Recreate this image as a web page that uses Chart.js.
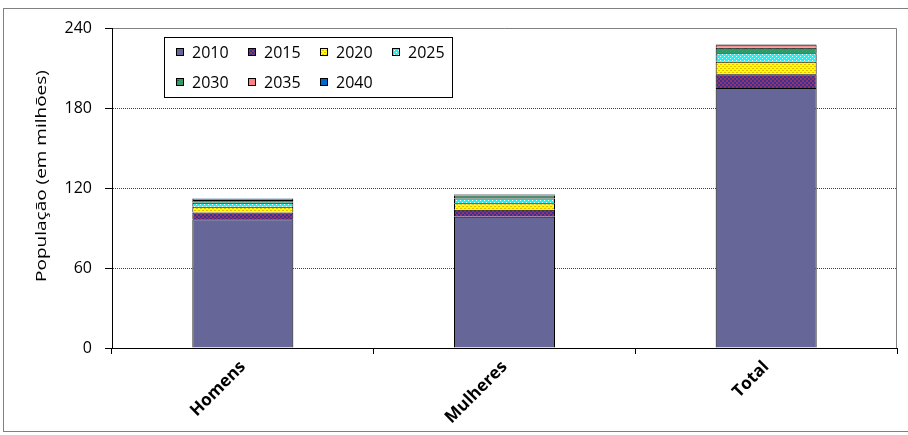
<!DOCTYPE html>
<html>
<head>
<meta charset="utf-8">
<script src="https://cdn.jsdelivr.net/npm/chart.js@4"></script>
<style>
  body { margin: 0; background: #fff; }
  canvas { display: block; }
</style>
</head>
<body>
<canvas id="popChart" width="908" height="435"></canvas>
<script>
// Categories and projection years
const categories = ['Homens', 'Mulheres', 'Total'];
const years = ['2010', '2015', '2020', '2025', '2030', '2035', '2040'];

// Population (millions) added in each period, per category
const pop2010 = [96.5, 98.5, 195.0];
const pop2015 = [5.2, 5.1, 10.4];
const pop2020 = [4.2, 5.0, 9.2];
const pop2025 = [3.0, 3.6, 6.4];
const pop2030 = [2.1, 2.2, 4.2];
const pop2035 = [0.8, 0.7, 1.8];
const pop2040 = [0.3, 0.3, 0.6];

const yTicks = [0, 60, 120, 180, 240];
const yTitle = 'População (em milhões)';

const FONT = "'Open Sans', sans-serif";

// Small repeating fills
function makePattern(size, draw) {
    const c = document.createElement('canvas');
    c.width = size;
    c.height = size;
    draw(c.getContext('2d'));
    return c.getContext('2d').createPattern(c, 'repeat');
}

const checkerPurple = makePattern(4, g => {
    g.fillStyle = '#993366';
    g.fillRect(0, 0, 4, 4);
    g.fillStyle = '#333399';
    g.fillRect(0, 0, 2, 2);
    g.fillRect(2, 2, 2, 2);
});

const dottedYellow = makePattern(4, g => {
    g.fillStyle = '#ffff00';
    g.fillRect(0, 0, 4, 4);
    g.fillStyle = '#e6b800';
    g.fillRect(0, 0, 2, 1);
    g.fillRect(2, 2, 2, 1);
});

const dottedCyan = makePattern(4, g => {
    g.fillStyle = '#00ffff';
    g.fillRect(0, 0, 4, 4);
    g.fillStyle = '#ffffff';
    g.fillRect(0, 0, 1, 1);
    g.fillRect(2, 2, 1, 1);
});

const dashedGreen = makePattern(8, g => {
    g.fillStyle = '#339966';
    g.fillRect(0, 0, 8, 8);
    g.fillStyle = '#1d5e3c';
    g.fillRect(0, 0, 3, 1);
});

const seriesData = [pop2010, pop2015, pop2020, pop2025, pop2030, pop2035, pop2040];
const seriesFill = ['#666699', checkerPurple, dottedYellow, dottedCyan, dashedGreen, '#ff8080', '#0066cc'];

const datasets = years.map((yr, i) => ({
    label: yr,
    data: seriesData[i],
    backgroundColor: seriesFill[i],
    borderColor: '#000',
    borderWidth: 1,
    barPercentage: 1,
    categoryPercentage: 0.386
}));

// Outer frame, plot frame, axis title and the boxed legend
const framePlugin = {
    id: 'frame',
    beforeDraw(chart) {
        const ctx = chart.ctx;
        const a = chart.chartArea;
        ctx.save();
        ctx.fillStyle = '#fff';
        ctx.fillRect(0, 0, chart.width, chart.height);
        ctx.strokeStyle = '#808080';
        ctx.lineWidth = 1;
        ctx.strokeRect(3.5, 8.5, 910, 423);
        ctx.beginPath();
        ctx.moveTo(a.left, a.top + 0.5);
        ctx.lineTo(a.right - 0.5, a.top + 0.5);
        ctx.lineTo(a.right - 0.5, a.bottom);
        ctx.stroke();
        ctx.restore();
    },
    afterDraw(chart) {
        const ctx = chart.ctx;
        ctx.save();

        // y axis title: tall font, squeezed across the line
        ctx.translate(42, 176);
        ctx.rotate(-Math.PI / 2);
        ctx.scale(1, 0.8);
        ctx.font = '19px ' + FONT;
        ctx.fillStyle = '#000';
        ctx.textAlign = 'center';
        ctx.textBaseline = 'middle';
        ctx.fillText(yTitle, 0, 0);
        ctx.restore();

        ctx.save();
        ctx.fillStyle = '#fff';
        ctx.fillRect(164, 37, 288, 60);
        ctx.strokeStyle = '#000';
        ctx.lineWidth = 1;
        ctx.strokeRect(164.5, 37.5, 288, 60);
        ctx.font = '16px ' + FONT;
        ctx.textBaseline = 'middle';
        const colX = [176, 248, 320, 392];
        chart.data.datasets.forEach((ds, i) => {
            const x = colX[i % 4];
            const y = i < 4 ? 52 : 82;
            ctx.fillStyle = ds.backgroundColor;
            ctx.fillRect(x, y - 4, 8, 8);
            ctx.strokeStyle = '#000';
            ctx.strokeRect(x + 0.5, y - 3.5, 7, 7);
            ctx.fillStyle = '#000';
            ctx.fillText(ds.label, x + 16, y + 1);
        });
        ctx.restore();
    }
};

new Chart(document.getElementById('popChart'), {
    type: 'bar',
    data: { labels: categories, datasets: datasets },
    plugins: [framePlugin],
    options: {
        responsive: false,
        animation: false,
        devicePixelRatio: 1,
        layout: { padding: { top: 28, right: 11, left: 0, bottom: 0 } },
        plugins: {
            legend: { display: false },
            tooltip: { enabled: false }
        },
        scales: {
            x: {
                stacked: true,
                afterFit: s => { s.height = 87; },
                grid: {
                    drawOnChartArea: false,
                    offset: true,
                    tickLength: 6,
                    tickColor: '#000'
                },
                border: { color: '#000', width: 1 },
                ticks: {
                    autoSkip: false,
                    minRotation: 45,
                    maxRotation: 45,
                    color: '#000',
                    font: { family: FONT, size: 17, weight: 'bold' }
                }
            },
            y: {
                stacked: true,
                min: 0,
                max: 240,
                afterFit: s => { s.width = 112; },
                afterBuildTicks: s => { s.ticks = yTicks.map(v => ({ value: v })); },
                grid: {
                    color: c => (c.tick && c.tick.value > 0 && c.tick.value < 240) ? '#444' : 'rgba(0,0,0,0)',
                    tickLength: 7,
                    tickColor: '#000'
                },
                border: { color: '#000', width: 1, dash: [1, 1] },
                ticks: {
                    padding: 13,
                    color: '#000',
                    font: { family: FONT, size: 16 }
                }
            }
        }
    }
});
</script>
</body>
</html>
